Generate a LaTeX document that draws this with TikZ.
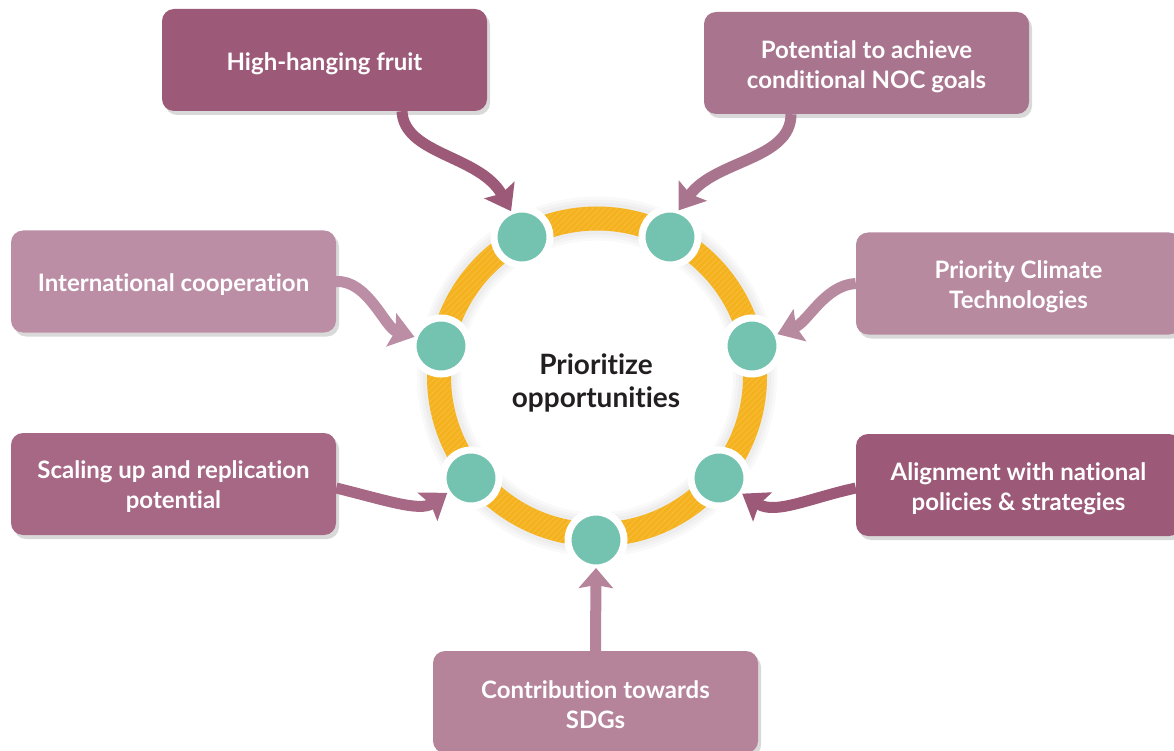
\documentclass[tikz,border=0pt]{standalone}
\usepackage{fontspec}
\setmainfont{Lato}[Ligatures=NoCommon]
\usetikzlibrary{arrows.meta,shadows}
\definecolor{cA}{HTML}{9C5A78}
\definecolor{cB}{HTML}{A9748D}
\definecolor{cC}{HTML}{BC8EA6}
\definecolor{cD}{HTML}{B88AA0}
\definecolor{cE}{HTML}{A66885}
\definecolor{cF}{HTML}{9C5A78}
\definecolor{cG}{HTML}{B5839A}
\definecolor{ringc}{HTML}{F5B21F}
\definecolor{hatchc}{HTML}{F8C24A}
\definecolor{tealc}{HTML}{74C3B0}
\definecolor{inkc}{HTML}{231F20}
\tikzset{
  box/.style={rectangle, rounded corners=12pt, minimum width=325pt, minimum height=102pt,
    inner sep=0pt,
    drop shadow={shadow xshift=3pt, shadow yshift=-4pt, opacity=0.15, fill=black}},
  boxtext/.style={inner sep=0pt, text=white, align=center,
    font=\fontsize{24}{30}\selectfont\bfseries},
  dot/.style={circle, fill=tealc, draw=white, line width=7pt, minimum size=56pt,
    inner sep=0pt, outer sep=0pt,
    drop shadow={shadow xshift=1pt, shadow yshift=-2pt, opacity=0.12, fill=black}},
  arr/.style={line width=11pt, -{Stealth[length=24pt,width=34pt,inset=4pt]}}
}
\begin{document}
\begin{tikzpicture}[x=1pt,y=-1pt]
\useasboundingbox (0,0) rectangle (1174,751);
\clip (0,0) rectangle (1174,751);
% ring shadow
\foreach \w in {44,38,32}
  \draw[black, opacity=0.025, line width=\w pt] (597,376.5) circle[radius=158];
% ring
\draw[ringc, line width=24pt] (597,376.5) circle[radius=158];
\begin{scope}[even odd rule]
  \clip (597,376.5) circle[radius=170] (597,376.5) circle[radius=146];
  \foreach \i in {-400,-394,...,400}
    \draw[hatchc, line width=0.8pt, opacity=0.6] (597+\i-200,376.5+200) -- (597+\i+200,376.5-200);
\end{scope}
% center text
\node[font=\fontsize{28}{33}\selectfont\bfseries, text=inkc, align=center] (ctr) at (596,383) {Prioritize\\opportunities};
% dots
\node[dot] (d1) at (522,237) {};
\node[dot] (d2) at (670,237) {};
\node[dot] (d3) at (441,346) {};
\node[dot] (d4) at (752,346) {};
\node[dot] (d5) at (471,478) {};
\node[dot] (d6) at (719,478) {};
\node[dot] (d7) at (596,540) {};
% boxes
\node[box, fill=cA] (b1) at (324.5,60) {};
\node[box, fill=cB] (b2) at (866.5,63) {};
\node[box, fill=cC] (b3) at (173.5,281.5) {};
\node[box, fill=cD] (b4) at (1018.5,283.5) {};
\node[box, fill=cE] (b5) at (173.5,484) {};
\node[box, fill=cF] (b6) at (1018.5,485) {};
\node[box, fill=cG] (b7) at (595.5,702) {};
% box texts
\node[boxtext] (t1) at ([yshift=-4pt]b1.center) {High-hanging fruit};
\node[boxtext] (t2) at ([yshift=-4pt]b2.center) {Potential to achieve\\conditional NOC goals};
\node[boxtext] (t3) at ([yshift=-3pt]b3.center) {International cooperation};
\node[boxtext] (t4) at ([yshift=-3pt]b4.center) {Priority Climate\\Technologies};
\node[boxtext] (t5) at ([yshift=-3pt]b5.center) {Scaling up and replication\\potential};
\node[boxtext] (t6) at ([yshift=-4pt]b6.center) {Alignment with national\\policies \& strategies};
\node[boxtext] (t7) at ([yshift=-3pt]b7.center) {Contribution towards\\SDGs};
% arrows
\draw[arr, cA] ([xshift=77.5pt]b1.south) .. controls (404,155) and (480,155) .. (d1.113);
\draw[arr, cB] ([xshift=-75.5pt]b2.south) .. controls (791,160) and (715,160) .. (d2.72);
\draw[arr, cC] (b3.east) .. controls (368,280) and (385,328) .. (d3.161);
\draw[arr, cD] (b4.west) .. controls (825,285) and (808,322) .. (d4.25);
\draw[arr, cE] ([yshift=-4pt]b5.east) .. controls (385,500) and (420,512) .. (d5.212);
\draw[arr, cF] ([yshift=-3pt]b6.west) .. controls (810,498) and (775,515) .. (d6.326);
\draw[arr, cG, -{Stealth[length=20pt,width=34pt,inset=3pt]}] (b7.north) -- (d7.south);
\end{tikzpicture}
\end{document}
